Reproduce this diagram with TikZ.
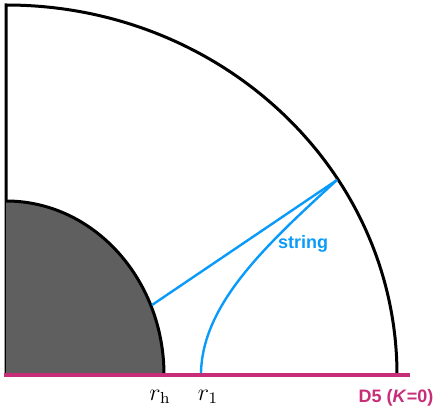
\documentclass[tikz,border=0pt]{standalone}
\usepackage{fontspec}
\setsansfont{Liberation Sans}
\usepackage{tikz}
\definecolor{stringblue}{RGB}{10,155,250}
\definecolor{branemagenta}{RGB}{200,45,120}
\definecolor{horizongray}{RGB}{95,95,95}
\tikzset{
  wall/.style={line width=1.5pt, black},
  strand/.style={line width=1.2pt, stringblue},
  brane/.style={line width=1.6pt, branemagenta},
  radlabel/.style={font=\large, inner sep=0pt}
}

\begin{document}
\begin{tikzpicture}[x=0.5pt, y=0.5pt]
    \useasboundingbox (-6,-37) rectangle (428,375);

    \coordinate (O) at (0, 0);
    \coordinate (T) at (0, 370);
    \coordinate (Rh) at (158, 0);
    \coordinate (R1) at (195, 0);
    \coordinate (H) at (146, 70);
    \coordinate (E) at (331, 195);
    \coordinate (B1) at (-2, 0);
    \coordinate (B2) at (404, 0);

    \draw[wall] (O) -- (T) arc[start angle=90, end angle=0, x radius=391, y radius=370];
    \fill[horizongray] (O) -- (Rh) arc[start angle=0, end angle=90, x radius=158, y radius=174] -- cycle;
    \draw[wall] (Rh) arc[start angle=0, end angle=90, x radius=158, y radius=174];

    \draw[strand] (H) -- (E);
    \draw[strand] (R1) .. controls (195, 70) and (260, 130) .. (E);
    \draw[brane] (B1) -- (B2);

    \node[radlabel] (lh) at (154, -22) {$r_{\mathrm{h}}$};
    \node[radlabel] (l1) at (202, -22) {$r_1$};
    \node[font=\sffamily\bfseries\fontsize{9}{11}\selectfont, text=stringblue] (ls) at (297, 131) {string};
    \node[font=\sffamily\bfseries\fontsize{9}{11}\selectfont, text=branemagenta] (ld) at (390, -23) {D5 (\textit{K}=0)};
\end{tikzpicture}
\end{document}
